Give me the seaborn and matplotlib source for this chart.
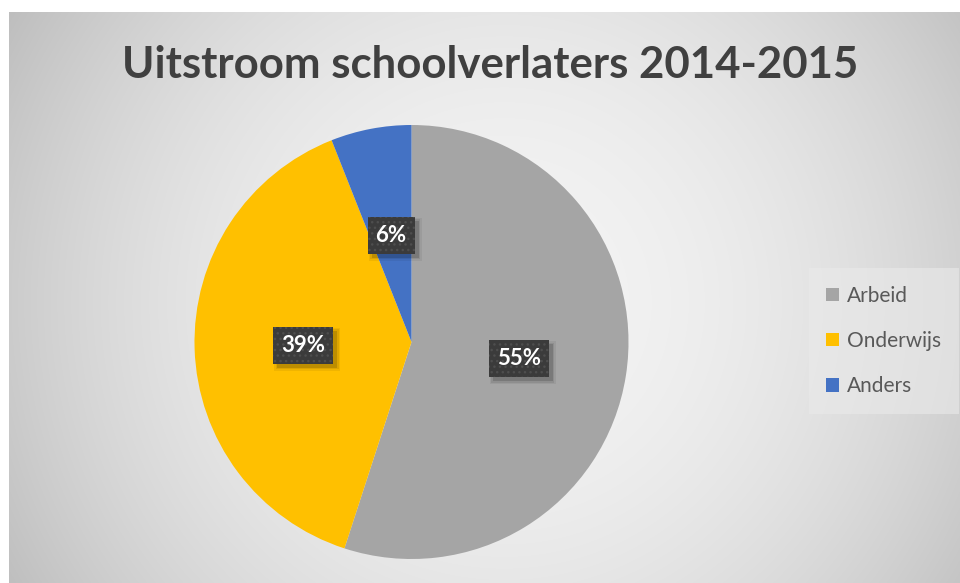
import numpy as np
import matplotlib
matplotlib.use("Agg")
import matplotlib.pyplot as plt
from matplotlib.patches import Rectangle
from matplotlib.transforms import IdentityTransform
import seaborn as sns

categories = ["Arbeid", "Onderwijs", "Anders"]
values = [55, 39, 6]
colors = ["#A5A5A5", "#FFC000", "#4472C4"]
title = "Uitstroom schoolverlaters 2014-2015"

sns.set_style("white")
plt.rcParams["font.family"] = ["Lato", "DejaVu Sans"]

W, H = 960, 583
fig = plt.figure(figsize=(W / 100, H / 100), dpi=100)
fig.patch.set_facecolor("white")

# background chart area with radial gradient
bg = fig.add_axes([9 / W, 0, 1 - 9 / W, (H - 12) / H])
bw, bh = W - 9, H - 12
yy, xx = np.mgrid[0:bh, 0:bw]
cx, cy = 495, 290
d = np.sqrt((xx - cx) ** 2 + (yy - cy) ** 2) / np.sqrt(cx ** 2 + cy ** 2)
val = 0.955 - 0.21 * np.clip(d, 0, 1.2) ** 2.0
img = np.dstack([val, val, val])
bg.imshow(img, aspect="auto", extent=[0, bw, bh, 0])
bg.set_axis_off()

# pie axes
r = 217
pcx, pcy = 411.5, 342
ax = fig.add_axes([(pcx - r) / W, (H - pcy - r) / H, 2 * r / W, 2 * r / H])
ax.set_facecolor("none")
lbl_fs = 16
wedges, texts, autotexts = ax.pie(
    values, colors=sns.color_palette(colors), startangle=90, counterclock=False,
    autopct="%1.0f%%", pctdistance=0.5, radius=1.0,
    wedgeprops=dict(linewidth=0),
    textprops=dict(color="white", fontsize=lbl_fs, fontweight="bold"),
)
ax.set_xlim(-1, 1)
ax.set_ylim(-1, 1)
ax.set_aspect("equal")

for t in autotexts:
    t.set_bbox(dict(boxstyle="square,pad=0.36", facecolor="#3B3B3B",
                    edgecolor="#4E4E4E", linewidth=0, hatch="..."))
    t.set_zorder(5)

fig.text(490.5 / W, 1 - 65 / H, title, ha="center", va="center",
         fontsize=31.5, fontweight="bold", color="#404040")

leg = fig.legend(wedges, categories, loc="center left",
                 bbox_to_anchor=(815 / W, 1 - 341 / H), frameon=True,
                 fontsize=15, labelcolor="#595959", handlelength=0.62,
                 handleheight=0.62, handletextpad=0.35, labelspacing=1.22,
                 borderpad=0.55, borderaxespad=0)
leg.get_frame().set_facecolor("#EAEAEA")
leg.get_frame().set_alpha(0.6)
leg.get_frame().set_edgecolor("none")
leg.get_frame().set_boxstyle("square")

# soft drop shadows behind the label boxes
fig.canvas.draw()
renderer = fig.canvas.get_renderer()
for t in autotexts:
    ext = t.get_bbox_patch().get_window_extent(renderer)
    for grow, a in [(3, 0.06), (1.5, 0.08), (0, 0.14)]:
        ax.add_patch(Rectangle((ext.x0 + 4 - grow, ext.y0 - 4 - grow),
                               ext.width + 2 * grow, ext.height + 2 * grow,
                               transform=IdentityTransform(), facecolor="black",
                               edgecolor="none", alpha=a, zorder=4))

fig.savefig("out.png", dpi=100)
